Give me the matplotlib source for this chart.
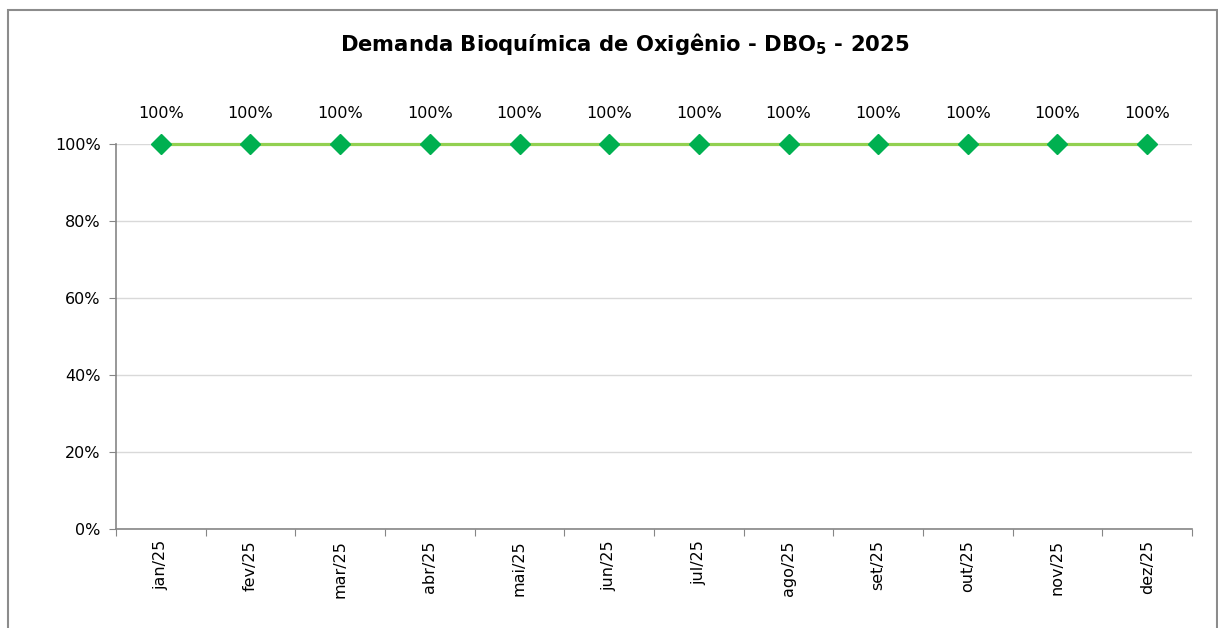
import matplotlib.pyplot as plt
import matplotlib.ticker as mticker
from matplotlib.patches import Rectangle

MONTHS = ['jan/25', 'fev/25', 'mar/25', 'abr/25', 'mai/25', 'jun/25',
          'jul/25', 'ago/25', 'set/25', 'out/25', 'nov/25', 'dez/25']
DBO_PCT = [100, 100, 100, 100, 100, 100, 100, 100, 100, 100, 100, 100]

LINE_COLOR = '#92D050'
MARKER_COLOR = '#00B050'
AXIS_COLOR = '#868686'
GRID_COLOR = '#D9D9D9'

plt.rcParams['font.family'] = ['DejaVu Sans']
plt.rcParams['mathtext.fontset'] = 'dejavusans'

W, H = 1218, 628
fig = plt.figure(figsize=(W / 100, H / 100), dpi=100)
ax = fig.add_axes([116 / W, 1 - 529 / H, (1192 - 116) / W, (529 - 144) / H])

x = list(range(len(MONTHS)))
ax.plot(x, DBO_PCT, color=LINE_COLOR, linewidth=2.3, marker='D', markersize=10.5,
        markerfacecolor=MARKER_COLOR, markeredgecolor=MARKER_COLOR, zorder=3, clip_on=False)

for xi, v in zip(x, DBO_PCT):
    ax.annotate(f'{v}%', (xi, v), xytext=(0, 22), textcoords='offset points',
                ha='center', va='center', fontsize=11.5, color='#000000')

ax.set_xlim(-0.5, len(MONTHS) - 0.5)
ax.set_ylim(0, 100)
ax.yaxis.set_major_locator(mticker.MultipleLocator(20))
ax.yaxis.set_major_formatter(mticker.FuncFormatter(lambda v, _: f'{v:.0f}%'))
ax.set_xticks([i - 0.5 for i in range(len(MONTHS) + 1)])
ax.set_xticklabels([])
ax.set_xticks(x, minor=True)
ax.set_xticklabels(MONTHS, minor=True, rotation=90, fontsize=11.5)
ax.tick_params(axis='x', which='minor', length=0, pad=8)
ax.tick_params(axis='x', which='major', length=5, color=AXIS_COLOR, direction='out')
ax.tick_params(axis='y', length=5, color=AXIS_COLOR, labelsize=11.5, pad=6)

ax.grid(axis='y', color=GRID_COLOR, linewidth=1)
ax.set_axisbelow(True)
for side in ['top', 'right']:
    ax.spines[side].set_visible(False)
for side in ['left', 'bottom']:
    ax.spines[side].set_color(AXIS_COLOR)
    ax.spines[side].set_linewidth(1.2)

fig.text(625 / W, 1 - 44 / H, r'Demanda Bioquímica de Oxigênio - DBO$_\mathbf{5}$ - 2025',
         ha='center', va='center', fontsize=15.2, fontweight='bold')

fig.patches.append(Rectangle((7.5 / W, -0.01), (1217 - 7.5) / W, 1 - 10 / H + 0.01,
                             transform=fig.transFigure, fill=False,
                             edgecolor='#8C8C8C', linewidth=1.5))

fig.savefig('out.png', dpi=100)
